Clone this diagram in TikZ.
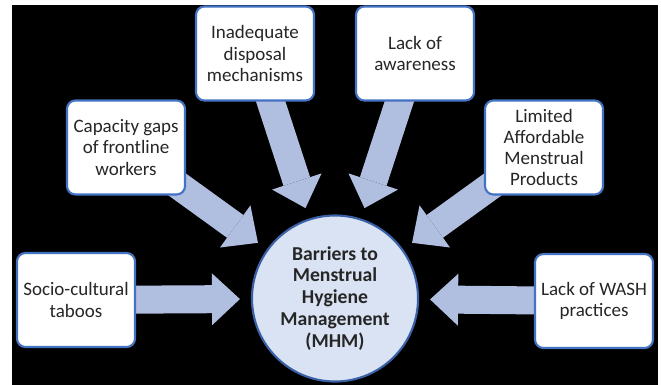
\documentclass[tikz,border=0pt]{standalone}
\usepackage{fontspec}
\setmainfont{Carlito}
\usetikzlibrary{arrows.meta}

\definecolor{boxblue}{HTML}{4472C4}
\definecolor{arrowblue}{HTML}{B0BEE0}
\definecolor{hubfill}{HTML}{DAE3F3}
\definecolor{textgray}{HTML}{262626}

\pgfdeclarelayer{back}
\pgfsetlayers{back,main}

\tikzset{
	barrier/.style = {draw = boxblue, line width = 1.5pt, fill = white, rounded corners = 6pt,
		minimum width = 2.95cm, minimum height = 2.35cm, inner sep = 0pt,
		align = center, text = textgray, font = \fontsize{13.5}{15}\selectfont},
	hub/.style = {circle, draw = boxblue!85!black, line width = 1.5pt, fill = hubfill,
		minimum size = 4.15cm, inner sep = 0pt,
		align = center, text = textgray, font = \bfseries\fontsize{14}{15.6}\selectfont},
	push/.style = {arrowblue, line width = 0.7cm, shorten > = 0.275cm,
		-{Triangle[length = 0.7cm, width = 1.3cm, line width = 0pt]}}
}

\begin{document}
\begin{tikzpicture}[x = 0.025cm, y = -0.025cm]

	% Frame
	
	\useasboundingbox (0, 0) rectangle (661, 385);
	
	% Centre
	
	\node [hub] (mhm) at (335, 298.5) {Barriers to\\Menstrual\\Hygiene\\Management\\(MHM)};
	
	% Barriers
	
	\node [barrier] (socio) at (76, 300) {Socio-cultural\\taboos};
	\node [barrier] (capacity) at (126, 147.5) {Capacity gaps\\of frontline\\workers};
	\node [barrier] (disposal) at (255, 53.5) {Inadequate\\disposal\\mechanisms};
	\node [barrier] (awareness) at (415, 53.5) {Lack of\\awareness};
	\node [barrier] (products) at (544, 147.5) {Limited\\Affordable\\Menstrual\\Products};
	\node [barrier] (wash) at (594, 301) {Lack of WASH\\practices};
	
	% Arrows
	
	\begin{pgfonlayer}{back}
		\fill [white] (0, 0) rectangle (661, 385);
		\fill [black] (12, 5) rectangle (658, 385);
		\foreach \b in {socio, capacity, disposal, awareness, products, wash}
			\draw [push] (\b.center) -- (mhm);
	\end{pgfonlayer}

\end{tikzpicture}
\end{document}
